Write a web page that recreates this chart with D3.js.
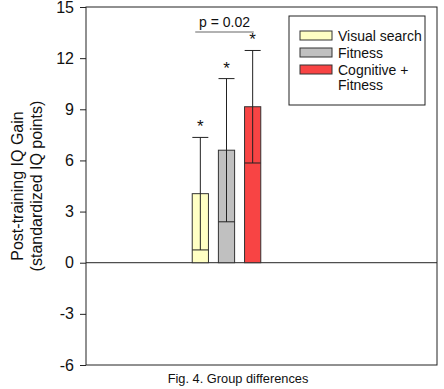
<!DOCTYPE html>
<html>
<head>
<meta charset="utf-8">
<script src="https://cdn.jsdelivr.net/npm/d3@7.9.0/dist/d3.min.js"></script>
<style>
  body { margin: 0; background: #fff; }
  svg { display: block; font-family: Arial, "Liberation Sans", sans-serif; }
</style>
</head>
<body>
<svg id="chart" width="444" height="389"></svg>
<script>
// data
const groups = ['Visual search', 'Fitness', 'Cognitive + Fitness'];
const means = [4.05, 6.6, 9.15];
const errors = [3.3, 4.2, 3.3];
const colors = ['#ffffc4', '#c0c0c0', '#f84444'];
const yTicks = [-6, -3, 0, 3, 6, 9, 12, 15];
const legendLines = [['Visual search'], ['Fitness'], ['Cognitive +', 'Fitness']];

const svg = d3.select('#chart');
const pLeft = 86, pRight = 437, pTop = 7, pBottom = 365;

const y = d3.scaleLinear().domain([-6, 15]).range([pBottom, pTop]);
const x = d3.scaleBand().domain(groups).range([187, 266]).paddingInner(0.38).paddingOuter(0.2);

// frame
svg.append('rect')
  .attr('x', pLeft).attr('y', pTop)
  .attr('width', pRight - pLeft).attr('height', pBottom - pTop)
  .attr('fill', 'none').attr('stroke', '#222').attr('stroke-width', 1);

// y axis (plain hyphen minus like the original)
const yAxis = d3.axisLeft(y).tickValues(yTicks).tickSize(6).tickPadding(6).tickFormat(d => String(d));
const ga = svg.append('g').attr('transform', `translate(${pLeft},0)`).call(yAxis);
ga.select('.domain').remove();
ga.selectAll('line').attr('stroke', '#222');
ga.selectAll('text').attr('font-size', 16).attr('fill', '#111').attr('font-family', 'Arial, "Liberation Sans", sans-serif');

// zero line
svg.append('line')
  .attr('x1', pLeft).attr('x2', pRight)
  .attr('y1', y(0)).attr('y2', y(0))
  .attr('stroke', '#222');

// y label
const yl = svg.append('text')
  .attr('transform', `translate(23,${(pTop + pBottom) / 2}) rotate(-90)`)
  .attr('text-anchor', 'middle').attr('font-size', 16).attr('fill', '#111');
yl.append('tspan').attr('x', 0).attr('dy', 0).text('Post-training IQ Gain');
yl.append('tspan').attr('x', 0).attr('dy', 19).text('(standardized IQ points)');

// bars
svg.selectAll('rect.bar').data(groups).join('rect')
  .attr('class', 'bar')
  .attr('x', d => x(d))
  .attr('width', x.bandwidth())
  .attr('y', (d, i) => y(means[i]))
  .attr('height', (d, i) => y(0) - y(means[i]))
  .attr('fill', (d, i) => colors[i])
  .attr('stroke', '#333').attr('stroke-width', 1);

// error bars
groups.forEach((g, i) => {
  const cx = x(g) + x.bandwidth() / 2;
  const hi = y(means[i] + errors[i]), lo = y(means[i] - errors[i]);
  svg.append('line').attr('x1', cx).attr('x2', cx).attr('y1', hi).attr('y2', lo).attr('stroke', '#222');
  [hi, lo].forEach(v => {
    svg.append('line').attr('x1', cx - 8).attr('x2', cx + 8).attr('y1', v).attr('y2', v).attr('stroke', '#222');
  });
  svg.append('text')
    .attr('x', cx).attr('y', hi - 5)
    .attr('text-anchor', 'middle').attr('font-size', 17).attr('fill', '#111')
    .text('*');
});

// significance bracket
const x1 = x(groups[0]) + 3, x2 = x(groups[2]) + x.bandwidth() - 7;
svg.append('line').attr('x1', x1).attr('x2', x2).attr('y1', 32).attr('y2', 32)
  .attr('stroke', '#666').attr('stroke-width', 1.2);
svg.append('text').attr('x', (x1 + x2) / 2).attr('y', 27)
  .attr('text-anchor', 'middle').attr('font-size', 14).attr('fill', '#111')
  .text('p = 0.02');

// legend
const lg = svg.append('g');
lg.append('rect').attr('x', 289).attr('y', 16).attr('width', 136).attr('height', 89)
  .attr('fill', '#fff').attr('stroke', '#222');
const rowY = [31, 48, 65];
groups.forEach((g, i) => {
  lg.append('rect').attr('x', 300).attr('y', rowY[i]).attr('width', 32).attr('height', 9)
    .attr('fill', colors[i]).attr('stroke', '#333');
  const t = lg.append('text').attr('x', 338).attr('y', rowY[i] + 9.5)
    .attr('font-size', 14).attr('fill', '#111');
  legendLines[i].forEach((s, k) => {
    t.append('tspan').attr('x', 338).attr('dy', k ? 15 : 0).text(s);
  });
});

// caption
svg.append('text').attr('x', 238).attr('y', 383)
  .attr('text-anchor', 'middle').attr('font-size', 12.8).attr('fill', '#111')
  .text('Fig. 4. Group differences');
</script>
</body>
</html>
